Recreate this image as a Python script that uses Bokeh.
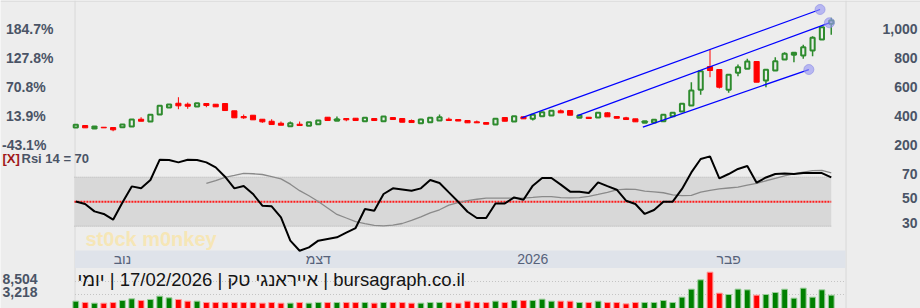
from bokeh.plotting import figure
from bokeh.models import Range1d, LogScale, ColumnDataSource
from bokeh.core.properties import value
from bokeh.embed import file_html
from bokeh.resources import INLINE
import math

# ---------------- data ----------------
opens = [317.4, 331.2, 310.5, 319.4, 317.4, 319.4, 324.3, 374.8, 358.9, 407.3,
         455.7, 485.4, 478.5, 462.6, 483.4, 478.5, 483.4, 432.9, 393.4, 402.4,
         374.8, 360.9, 347.1, 326.3, 340.2, 329.1, 340.2, 388.6, 363.7, 379.6,
         381.7, 360.9, 379.6, 360.9, 386.5, 379.6, 365.8, 347.1, 354.0, 365.8,
         374.8, 372.7, 365.8, 356.8, 351.9, 338.1, 386.5, 358.9, 391.4, 377.5,
         395.5, 400.4, 432.9, 434.9, 384.5, 388.6, 386.5, 419.0, 393.4, 384.5,
         377.5, 349.9, 351.9, 360.9, 395.5, 428.0, 469.5, 578.1, 739.2, 718.5,
         578.1, 695.7, 723.3, 773.8, 642.4, 711.6, 787.7, 820.2, 815.3, 849.9,
         926.0, 1034.6]
highs = [336.0, 331.2, 324.3, 319.4, 317.4, 338.1, 372.7, 388.6, 405.2, 467.4,
         476.4, 526.9, 490.3, 485.4, 483.4, 478.5, 483.4, 432.9, 407.3, 402.4,
         374.8, 374.8, 358.9, 358.9, 358.9, 354.0, 365.8, 388.6, 393.4, 379.6,
         381.7, 384.5, 379.6, 393.4, 386.5, 379.6, 372.7, 377.5, 384.5, 407.3,
         386.5, 372.7, 365.8, 365.8, 351.9, 377.5, 386.5, 395.5, 391.4, 405.2,
         423.2, 432.9, 441.9, 434.9, 400.4, 388.6, 419.0, 423.2, 393.4, 391.4,
         377.5, 360.9, 370.6, 405.2, 419.0, 481.3, 630.7, 706.7, 854.7, 718.5,
         681.8, 753.1, 792.5, 773.8, 716.4, 803.6, 838.1, 834.0, 889.3, 948.8,
         1011.0, 1076.1]
lows = [317.4, 315.3, 310.5, 315.3, 291.8, 319.4, 324.3, 360.9, 358.9, 407.3,
        455.7, 443.9, 446.7, 462.6, 457.8, 460.5, 434.9, 384.5, 377.5, 370.6,
        349.9, 338.1, 333.3, 326.3, 331.2, 329.1, 340.2, 365.8, 363.7, 360.9,
        365.8, 360.9, 365.8, 360.9, 372.7, 354.0, 351.9, 347.1, 354.0, 365.8,
        365.8, 362.3, 349.9, 349.9, 340.2, 338.1, 360.9, 358.9, 377.5, 365.8,
        395.5, 400.4, 419.0, 402.4, 384.5, 379.6, 386.5, 391.4, 381.7, 372.7,
        356.8, 349.9, 351.9, 360.9, 395.5, 428.0, 469.5, 543.5, 665.2, 587.1,
        557.4, 672.2, 723.3, 630.7, 596.1, 711.6, 787.7, 769.0, 792.5, 810.5,
        926.0, 958.5]
closes = [336.0, 315.3, 324.3, 315.3, 301.5, 338.1, 372.7, 360.9, 405.2, 467.4,
          476.4, 467.4, 464.7, 485.4, 469.5, 460.5, 434.9, 384.5, 384.5, 370.6,
          356.8, 338.1, 333.3, 347.1, 331.2, 354.0, 365.8, 365.8, 374.8, 370.6,
          365.8, 384.5, 365.8, 393.4, 372.7, 354.0, 351.9, 372.7, 384.5, 388.6,
          365.8, 362.3, 349.9, 349.9, 340.2, 377.5, 360.9, 395.5, 377.5, 405.2,
          423.2, 432.9, 419.0, 402.4, 400.4, 379.6, 419.0, 391.4, 381.7, 372.7,
          356.8, 360.9, 370.6, 405.2, 419.0, 481.3, 573.3, 706.7, 711.6, 596.1,
          681.8, 734.4, 773.8, 630.7, 716.4, 775.9, 827.1, 834.0, 872.7, 937.7,
          1011.0, 1057.4]
volumes = [1955, 1772, 1686, 1680, 1765, 2058, 2331, 2052, 2218, 2841,
           2509, 2212, 1950, 1958, 1770, 1766, 1773, 1768, 1762, 1771,
           1684, 1767, 1681, 1688, 1770, 1683, 1774, 1766, 1769, 1772,
           1765, 1770, 1685, 1768, 1771, 1764, 1682, 1686, 1769, 1773,
           1767, 1684, 1955, 1770, 1766, 1957, 1768, 2055, 2051, 2058,
           2270, 1953, 1958, 1950, 1769, 1772, 1956, 1765, 1770, 1602,
           1771, 1766, 1769, 2055, 1767, 2636, 4794, 9637, 17084, 3555,
           3218, 4810, 4563, 3061, 3225, 3737, 4780, 2446, 5167, 2636,
           4563, 3061]
rsi = [50.2, 48.1, 42.1, 40.0, 35.3, 49.4, 62.5, 60.9, 67.7, 84.3,
       84.0, 82.1, 84.3, 84.0, 82.1, 78.0, 70.4, 60.9, 62.8, 56.3,
       46.7, 46.2, 37.2, 18.2, 10.0, 12.7, 18.2, 19.6, 20.9, 24.7,
       28.5, 44.0, 42.7, 56.3, 60.9, 60.0, 59.0, 60.9, 67.7, 65.3,
       57.6, 50.0, 41.8, 36.7, 36.7, 48.6, 48.6, 53.5, 51.6, 63.1,
       69.3, 69.3, 63.9, 58.2, 58.2, 57.1, 65.8, 62.7, 59.8, 50.8,
       48.1, 40.0, 43.2, 50.0, 50.0, 60.4, 73.9, 84.9, 87.0, 69.0,
       72.6, 76.7, 79.1, 65.5, 69.8, 72.6, 73.1, 72.6, 73.4, 73.4,
       73.4, 69.8]
rsi_ma = [None] * 14 + [
    64.9, 67.3, 69.8, 71.4, 73.1, 72.8, 72.2, 70.4, 68.6, 64.3,
    59.0, 54.9, 50.2, 44.9, 39.6, 36.7, 33.8, 32.1, 30.6, 30.2,
    30.9, 32.2, 34.7, 37.6, 40.8, 43.4, 47.2, 49.2, 50.8, 52.0,
    52.9, 53.0, 53.0, 53.0, 53.0, 53.5, 54.2, 54.2, 53.3, 53.1,
    53.4, 54.3, 55.9, 57.6, 59.6, 60.2, 60.1, 58.7, 58.0, 57.3,
    55.6, 54.9, 55.1, 57.8, 59.3, 60.4, 61.2, 61.9, 63.5, 65.0,
    67.1, 69.1, 71.0, 72.8, 74.1, 75.3, 75.5, 73.5]

# trend channel lines (bar index, price)
chan_x0 = [47.8, 53.8, 60.8]
chan_y0 = [384.5, 400.4, 319.5]
chan_x1 = [79.8, 80.8, 78.6]
chan_y1 = [1133.5, 1041.5, 718.5]

price_ticks = [1000, 800, 600, 400, 200]
price_labels = ["1,000", "800", "600", "400", "200"]
pct_labels = ["184.7%", "127.8%", "70.8%", "13.9%", "-43.1%"]
rsi_ticks = [70, 50, 30]
rsi_labels = ["70", "50", "30"]
rsi_band = (30, 70)
vol_ticks = [8504, 3218]
vol_labels = ["8,504", "3,218"]
month_pos = [5, 26, 49, 70]
month_labels = ["נוב", "דצמ", "2026", "פבר"]
title_text = "אייראנגי טק | 17/02/2026 | יומי | bursagraph.co.il"
rsi_title = "Rsi 14 = %d" % round(rsi[-1])

# ---------------- style ----------------
BG = "#ededed"
GREEN = "#2e8b2e"
RED = "#ff0000"
LBL = "#4a5466"
FONT = value("Liberation Sans")

n = len(opens)
idx = list(range(n))

p = figure(width=920, height=308,
           x_range=Range1d(-8.074, 90.57), y_range=Range1d(-933.9, 1195.7),
           output_backend="svg", toolbar_location=None, min_border=0,
           x_axis_type=None, y_axis_type=None,
           background_fill_color=BG, border_fill_color=BG, outline_line_color=None)
p.title.visible = False
p.grid.visible = False
p.extra_x_ranges = {"px": Range1d(0, 920)}
p.extra_y_ranges = {"px": Range1d(308, 0),
                    "rsi": Range1d(-37.18, 214.24),
                    "vol": Range1d(1130, 1.13e13)}
p.extra_y_scales = {"vol": LogScale()}

# frame lines
p.segment(x0=0, y0=0.5, x1=920, y1=0.5, x_range_name="px", y_range_name="px",
          line_color="#d2d2d2", line_width=1)
p.segment(x0=[74.5, 845.5], y0=[0, 0], x1=[74.5, 845.5], y1=[308, 308],
          x_range_name="px", y_range_name="px", line_color="#d8d8d8", line_width=1)

# RSI band
p.quad(left=-0.15, right=n - 1, bottom=rsi_band[0], top=rsi_band[1], y_range_name="rsi",
       fill_color="#d8d8d8", line_color=None)
p.segment(x0=-0.15, x1=n - 1, y0=list(rsi_band), y1=list(rsi_band), y_range_name="rsi",
          line_color="#b4b4b4", line_dash="1 1", line_width=1)
p.segment(x0=-0.15, x1=n - 1, y0=50, y1=50, y_range_name="rsi",
          line_color="#ff1a1a", line_dash="2 1", line_width=2)

# watermark
p.text(x=85, y=238, text=["st0ck m0nkey"], x_range_name="px", y_range_name="px",
       text_font=FONT, text_font_style="bold", text_font_size="20px",
       text_color="#f6e6b6", text_baseline="middle", text_align="left")

# date strip
p.quad(left=74.5, right=845, top=250, bottom=267.5, x_range_name="px", y_range_name="px",
       fill_color="#dfe3ea", line_color=None)
p.text(x=month_pos, y=258.5, text=month_labels, y_range_name="px",
       text_font=FONT, text_font_size="14px", text_color="#56627a",
       text_align="center", text_baseline="middle")

# volume
p.segment(x0=74.5, x1=845, y0=vol_ticks, y1=vol_ticks, x_range_name="px", y_range_name="vol",
          line_color="#c4c4c4", line_dash="1 2", line_width=1)
up = [c >= o for o, c in zip(opens, closes)]
vsrc = ColumnDataSource(dict(
    x=idx, top=volumes, bottom=[1000] * n,
    fill=["#008000" if u else "#ff0000" for u in up],
    edge=["#9ccf9c" if u else "#ff9c9c" for u in up]))
p.vbar(x="x", top="top", bottom="bottom", width=0.62, source=vsrc, y_range_name="vol",
       fill_color="fill", line_color="edge", line_width=1)

p.text(x=77, y=279, text=[title_text], x_range_name="px", y_range_name="px",
       text_font=FONT, text_font_size="18.5px", text_color="#141414",
       text_align="left", text_baseline="middle")

# candles
wsrc = ColumnDataSource(dict(x=idx, lo=lows, hi=highs,
                             c=[GREEN if u else RED for u in up],
                             w=[1.5 if u else 1.0 for u in up]))
p.segment(x0="x", x1="x", y0="lo", y1="hi", line_color="c", line_width="w", source=wsrc)
rsrc = ColumnDataSource(dict(x=[i for i in idx if not up[i]],
                             top=[opens[i] for i in idx if not up[i]],
                             bottom=[closes[i] for i in idx if not up[i]]))
p.vbar(x="x", top="top", bottom="bottom", width=0.55, source=rsrc,
       fill_color=RED, line_color=RED, line_width=1)
gsrc = ColumnDataSource(dict(x=[i for i in idx if up[i]],
                             top=[closes[i] for i in idx if up[i]],
                             bottom=[opens[i] for i in idx if up[i]]))
p.vbar(x="x", top="top", bottom="bottom", width=0.45, source=gsrc,
       fill_color=BG, line_color=GREEN, line_width=2)

# channel
p.segment(x0=chan_x0, y0=chan_y0, x1=chan_x1, y1=chan_y1, line_color="#0000ff", line_width=1.3)
p.scatter(x=chan_x1, y=chan_y1, size=10, fill_color="#9a9af2", fill_alpha=0.65,
          line_color="#8a8ae6", line_alpha=0.6)

# RSI lines
p.line(idx, [float("nan") if v is None else v for v in rsi_ma], y_range_name="rsi",
       line_color="#8a8a8a", line_width=1.3)
p.line(idx, rsi, y_range_name="rsi", line_color="#000000", line_width=2)

# labels
lab = dict(text_font=FONT, text_font_style="bold", text_font_size="14px",
           text_color=LBL, text_baseline="middle")
p.text(x=[1.5 if s.startswith("-") else 5.5 for s in pct_labels], y=price_ticks,
       text=pct_labels, x_range_name="px", text_align="left", **lab)
p.text(x=917, y=price_ticks, text=price_labels, x_range_name="px", text_align="right", **lab)
p.text(x=917, y=rsi_ticks, text=rsi_labels, x_range_name="px", y_range_name="rsi",
       text_align="right", y_offset=-3.5, **lab)
p.text(x=2, y=vol_ticks, text=vol_labels, x_range_name="px", y_range_name="vol",
       text_align="left", y_offset=-2.5, **lab)
p.text(x=2, y=158.3, text=["[X]"], x_range_name="px", y_range_name="px",
       text_font=FONT, text_font_style="bold", text_font_size="13px",
       text_color="#a01818", text_baseline="middle", text_align="left")
p.text(x=21, y=158.3, text=[rsi_title], x_range_name="px", y_range_name="px",
       text_font=FONT, text_font_style="bold", text_font_size="13px",
       text_color=LBL, text_baseline="middle", text_align="left")

open("out.html", "w").write(file_html(p, INLINE))
